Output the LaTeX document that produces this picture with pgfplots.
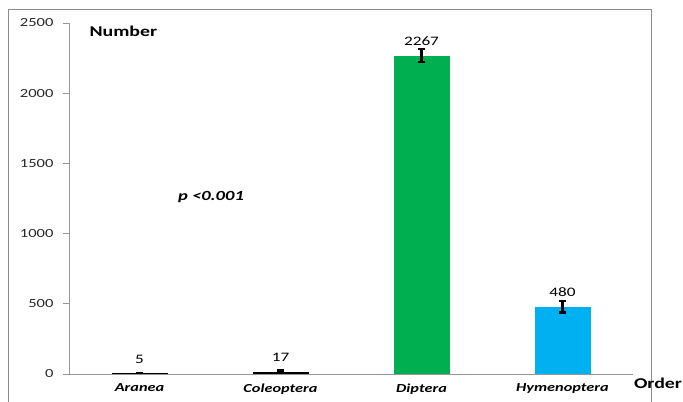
\documentclass[border=0pt]{standalone}
\usepackage{pgfplots}
\pgfplotsset{compat=1.18}
\usepackage{fontspec}
\setmainfont{Carlito}[FakeStretch=1.33]
\definecolor{dgreen}{RGB}{0,176,80}
\definecolor{lblue}{RGB}{0,176,240}
\definecolor{axgray}{RGB}{150,150,150}
\definecolor{framegray}{RGB}{140,140,140}
\definecolor{lbl}{RGB}{40,40,40}
\begin{document}
\begin{tikzpicture}
\useasboundingbox (0,0) rectangle (683bp,402bp);
\draw[framegray, line width=0.9bp] (8bp,-5bp) |- (651bp,393bp) -- (651bp,-5bp);
\begin{axis}[
  at={(69bp,28bp)}, anchor=south west, scale only axis,
  width=564bp, height=351bp,
  ybar, bar width=56bp,
  xmin=-0.5, xmax=3.5, ymin=0, ymax=2500,
  axis x line*=bottom, axis y line*=left,
  axis line style={axgray, line width=0.9bp, -},
  xtick={0,1,2,3}, xticklabels={Aranea,Coleoptera,Diptera,Hymenoptera},
  xticklabel style={font=\fontsize{12.3}{14}\selectfont\bfseries\itshape, black},
  x tick style={draw=none},
  ytick={0,500,1000,1500,2000,2500},
  tick align=outside, major tick length=6bp,
  y tick style={axgray, line width=0.9bp},
  yticklabel style={font=\fontsize{12.5}{14}\selectfont, lbl, xshift=-6bp},
  /pgf/number format/assume math mode=true,
  /pgf/number format/1000 sep={},
  nodes near coords,
  every node near coord/.append style={font=\fontsize{13}{15}\selectfont, black, anchor=south, inner sep=0pt, yshift=9.5bp},
  /pgfplots/error bars/y dir=both,
  /pgfplots/error bars/y explicit,
  /pgfplots/error bars/error mark=-,
  /pgfplots/error bars/error bar style={ultra thick, line width=2.2bp, draw=black},
  /pgfplots/error bars/error mark options={rotate=90, ultra thick, line width=2.2bp, mark size=3.5bp, draw=black},
]
\addplot[fill=black, draw=none, bar shift=0pt] coordinates {(0,5) +- (0,3)};
\addplot[fill=black, draw=none, bar shift=0pt] coordinates {(1,17) +- (0,8)};
\addplot[fill=dgreen, draw=none, bar shift=0pt] coordinates {(2,2267) +- (0,45)};
\addplot[fill=lblue, draw=none, bar shift=0pt] coordinates {(3,480) +- (0,42)};
\end{axis}
\node[anchor=west, font=\fontsize{15}{18}\selectfont\bfseries] at (86bp,371bp) {Number};
\node[font=\fontsize{14}{17}\selectfont\bfseries\itshape] at (211bp,205bp) {p <0.001};
\node[font=\fontsize{15}{18}\selectfont\bfseries] at (658bp,19bp) {Order};
\end{tikzpicture}
\end{document}
